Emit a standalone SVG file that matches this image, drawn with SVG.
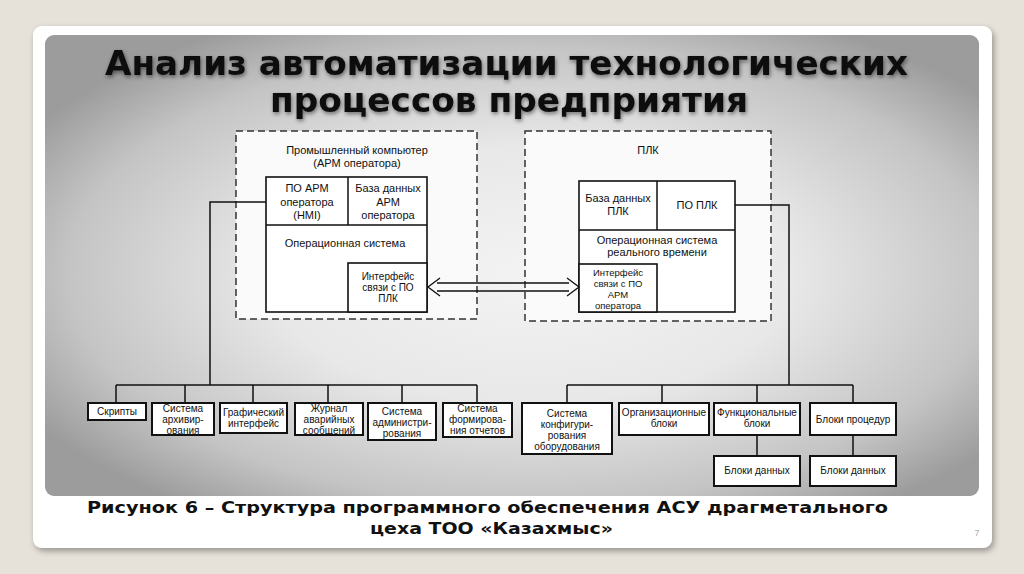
<svg xmlns="http://www.w3.org/2000/svg" width="1024" height="574" viewBox="0 0 1024 574">
<defs>
<radialGradient id="pg" cx="52%" cy="52%" r="62%">
<stop offset="0" stop-color="#f3f3f3"/>
<stop offset="0.45" stop-color="#e8e8e8"/>
<stop offset="0.8" stop-color="#c4c4c4"/>
<stop offset="1" stop-color="#9c9c9c"/>
</radialGradient>
<filter id="cardsh" x="-5%" y="-5%" width="110%" height="115%">
<feGaussianBlur in="SourceAlpha" stdDeviation="3"/>
<feOffset dx="2" dy="3" result="b"/>
<feComponentTransfer><feFuncA type="linear" slope="0.35"/></feComponentTransfer>
<feMerge><feMergeNode/><feMergeNode in="SourceGraphic"/></feMerge>
</filter>
<filter id="tsh" x="-5%" y="-30%" width="110%" height="160%">
<feGaussianBlur in="SourceAlpha" stdDeviation="2"/>
<feOffset dx="1" dy="2" result="b"/>
<feComponentTransfer><feFuncA type="linear" slope="0.5"/></feComponentTransfer>
<feMerge><feMergeNode/><feMergeNode in="SourceGraphic"/></feMerge>
</filter>
<style>
.title{font-family:"DejaVu Sans","Liberation Sans",sans-serif;font-weight:bold;font-size:33px;fill:#111;text-anchor:middle}
.cap{font-family:"DejaVu Sans","Liberation Sans",sans-serif;font-weight:bold;font-size:15px;fill:#111;text-anchor:middle}
.t{font-family:"Liberation Sans",Arial,sans-serif;font-size:11px;fill:#111;text-anchor:middle}
.s{font-family:"Liberation Sans",Arial,sans-serif;font-size:10px;fill:#111;text-anchor:middle}
.xs{font-family:"Liberation Sans",Arial,sans-serif;font-size:9.5px;fill:#111;text-anchor:middle}
.dash{fill:#fafafa;stroke:#333;stroke-width:1.5;stroke-dasharray:7 4}
.box{fill:#fff;stroke:#111;stroke-width:1.6}
.bb{fill:#fff;stroke:#111;stroke-width:2}
.ln{fill:none;stroke:#111;stroke-width:1.5}
</style>
</defs>
<rect width="1024" height="574" fill="#e6e1d9"/>
<rect x="33" y="26" width="959" height="522" rx="9" fill="#fff" filter="url(#cardsh)"/>
<rect x="45" y="35" width="934" height="461" rx="9" fill="url(#pg)"/>

<g id="title" filter="url(#tsh)">
<text class="title" x="506.5" y="75" textLength="803" lengthAdjust="spacingAndGlyphs">Анализ автоматизации технологических</text>
<text class="title" x="509" y="112" textLength="478" lengthAdjust="spacingAndGlyphs">процессов предприятия</text>
</g>

<g id="pc">
<rect class="dash" x="236" y="131" width="241" height="188"/>
<text class="t" x="357" y="154">Промышленный компьютер</text>
<text class="t" x="357" y="167">(АРМ оператора)</text>
<rect class="box" x="266" y="177" width="161" height="135"/>
<path class="ln" d="M266,225 H427 M348,177 V225"/>
<text class="t" x="307" y="192">ПО АРМ</text>
<text class="t" x="307" y="205.5">оператора</text>
<text class="t" x="307" y="219">(HMI)</text>
<text class="t" x="388" y="192">База данных</text>
<text class="t" x="388" y="205.5">АРМ</text>
<text class="t" x="388" y="219">оператора</text>
<text class="t" x="345" y="247">Операционная система</text>
<rect class="box" x="348" y="263" width="79" height="49"/>
<text class="s" x="388" y="280">Интерфейс</text>
<text class="s" x="388" y="291">связи с ПО</text>
<text class="s" x="388" y="302">ПЛК</text>
</g>

<g id="plc">
<rect class="dash" x="525" y="131" width="246" height="190"/>
<text class="t" x="648" y="154">ПЛК</text>
<rect class="box" x="579" y="181" width="156" height="131"/>
<path class="ln" d="M579,230 H735 M657,181 V230"/>
<text class="t" x="618" y="202">База данных</text>
<text class="t" x="618" y="215">ПЛК</text>
<text class="t" x="697" y="209">ПО ПЛК</text>
<text class="t" x="657" y="244">Операционная система</text>
<text class="t" x="657" y="256">реального времени</text>
<rect class="box" x="579" y="264" width="78" height="48"/>
<text class="xs" x="618" y="275.5">Интерфейс</text>
<text class="xs" x="618" y="286.5">связи с ПО</text>
<text class="xs" x="618" y="297.5">АРМ</text>
<text class="xs" x="618" y="308.5">оператора</text>
</g>

<g id="connectors">
<path class="ln" d="M266,202 H210 V385"/>
<path class="ln" d="M116,385 H477"/>
<path class="ln" d="M116,385 V403 M185,385 V403 M253,385 V403 M328,385 V403 M402,385 V403 M477,385 V403"/>
<path class="ln" d="M735,205 H789 V385"/>
<path class="ln" d="M567,385 H853"/>
<path class="ln" d="M567,385 V403 M662,385 V403 M757,385 V403 M853,385 V403"/>
<path class="ln" d="M757,435 V456 M853,435 V456"/>
<path fill="none" stroke="#111" stroke-width="1.3" d="M437,283 H569 M437,291 H569 M440,278 L428,287 L440,296 M567,278 L579,287 L567,296"/>
</g>

<g id="scripts"><rect class="bb" x="88" y="403" width="58" height="17"/><text class="s" x="117" y="415">Скрипты</text></g>
<g id="archive"><rect class="bb" x="152" y="403" width="62" height="32"/><text class="s" x="183" y="411.5">Система</text><text class="s" x="183" y="422.5">архивир-</text><text class="s" x="183" y="433.5">ования</text></g>
<g id="gui"><rect class="bb" x="220" y="403" width="67" height="30"/><text class="s" x="253.5" y="416">Графический</text><text class="s" x="253.5" y="427">интерфейс</text></g>
<g id="alarm"><rect class="bb" x="295" y="403" width="68" height="32"/><text class="s" x="329" y="412">Журнал</text><text class="s" x="329" y="423">аварийных</text><text class="s" x="329" y="434">сообщений</text></g>
<g id="admin"><rect class="bb" x="368" y="403" width="68" height="37"/><text class="s" x="402" y="415">Система</text><text class="s" x="402" y="426">администри-</text><text class="s" x="402" y="437">рования</text></g>
<g id="reports"><rect class="bb" x="443" y="403" width="69" height="34"/><text class="s" x="477.5" y="412">Система</text><text class="s" x="477.5" y="423">формирова-</text><text class="s" x="477.5" y="434">ния отчетов</text></g>

<g id="config"><rect class="bb" x="522" y="403" width="90" height="51"/><text class="s" x="567" y="417">Система</text><text class="s" x="567" y="428">конфигури-</text><text class="s" x="567" y="439">рования</text><text class="s" x="567" y="450">оборудования</text></g>
<g id="org"><rect class="bb" x="619" y="403" width="90" height="32"/><text class="s" x="664" y="416">Организационные</text><text class="s" x="664" y="427">блоки</text></g>
<g id="func"><rect class="bb" x="714" y="403" width="86" height="32"/><text class="s" x="757" y="416">Функциональные</text><text class="s" x="757" y="427">блоки</text></g>
<g id="proc"><rect class="bb" x="810" y="403" width="86" height="32"/><text class="s" x="853" y="423">Блоки процедур</text></g>
<g id="data1"><rect class="bb" x="714" y="456" width="86" height="30"/><text class="s" x="757" y="474">Блоки данных</text></g>
<g id="data2"><rect class="bb" x="810" y="456" width="86" height="30"/><text class="s" x="853" y="474">Блоки данных</text></g>

<g id="caption">
<text class="cap" x="487.5" y="513" textLength="801" lengthAdjust="spacingAndGlyphs">Рисунок 6 – Структура программного обеспечения АСУ драгметального</text>
<text class="cap" x="491.5" y="534" textLength="243" lengthAdjust="spacingAndGlyphs">цеха ТОО «Казахмыс»</text>
<text x="977" y="536" font-family="Liberation Sans, sans-serif" font-size="9" fill="#aaa" text-anchor="middle">7</text>
</g>
</svg>
